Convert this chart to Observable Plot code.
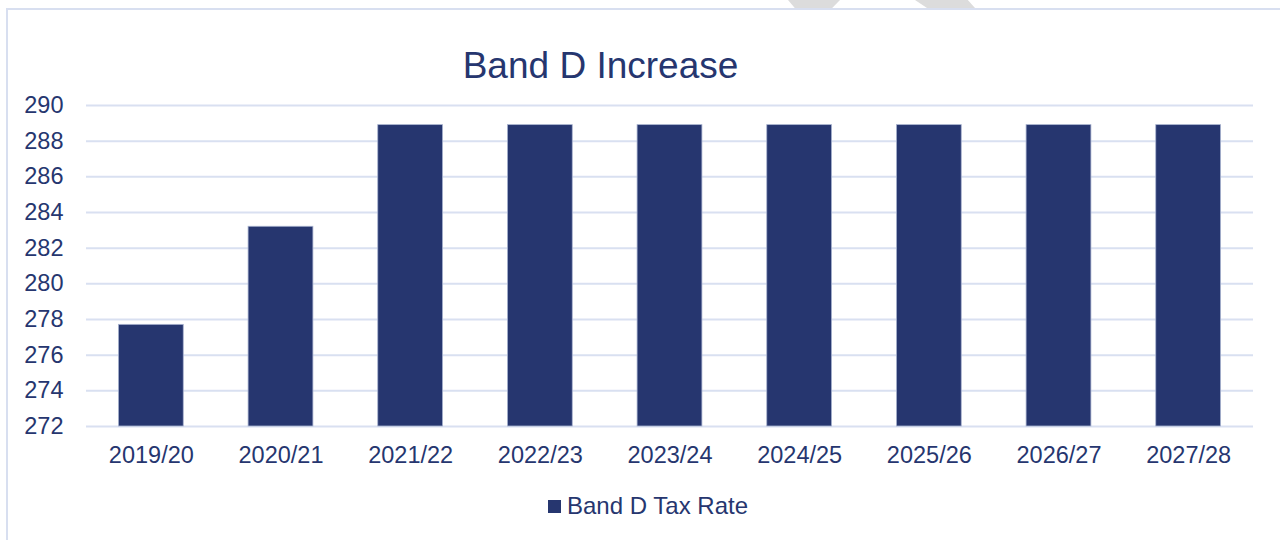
<!DOCTYPE html>
<html>
<head>
<meta charset="utf-8">
<script src="https://cdn.jsdelivr.net/npm/d3@7"></script>
<script src="https://cdn.jsdelivr.net/npm/@observablehq/plot@0.6"></script>
<style>
  html, body { margin: 0; padding: 0; background: #fff; }
  #page { position: relative; width: 1280px; height: 540px; overflow: hidden; font-family: "Liberation Sans", Arial, sans-serif; }
  #frame { position: absolute; left: 6px; top: 8px; width: 1300px; height: 600px; border-left: 2.5px solid #d8dff0; border-top: 2px solid #d8dff0; box-sizing: border-box; }
  .mark { position: absolute; top: 0; height: 8px; background: #dcdcdc; }
  #m1 { left: 788px; width: 52px; clip-path: polygon(0 0, 100% 0, 85% 100%, 13% 100%); }
  #m2 { left: 915px; width: 60px; clip-path: polygon(0 0, 88% 0, 100% 100%, 20% 100%); }
  #title { position: absolute; left: 0; top: 44px; width: 1201px; text-align: center; font-size: 37px; color: #26366f; line-height: 44px; }
  #chart { position: absolute; left: 0; top: 90px; }
  #legend { position: absolute; left: 548px; top: 492px; display: flex; align-items: center; gap: 6px; font-size: 24px; color: #26366f; line-height: 28px; }
  #legend .sw { width: 13px; height: 13px; background: #26366f; }
</style>
</head>
<body>
<div id="page">
  <div id="frame"></div>
  <div class="mark" id="m1"></div>
  <div class="mark" id="m2"></div>
  <div id="title">Band D Increase</div>
  <div id="chart"></div>
  <div id="legend"><div class="sw"></div><span>Band D Tax Rate</span></div>
</div>
<script>
const years = ["2019/20", "2020/21", "2021/22", "2022/23", "2023/24", "2024/25", "2025/26", "2026/27", "2027/28"];
const bandDTaxRate = [277.7, 283.2, 288.9, 288.9, 288.9, 288.9, 288.9, 288.9, 288.9];
const yTicks = [272, 274, 276, 278, 280, 282, 284, 286, 288, 290];
const yMin = 272, yMax = 290;

const data = years.map((y, i) => ({year: y, value: bandDTaxRate[i]}));
const navy = "#26366f";

const chart = Plot.plot({
  width: 1280,
  height: 385,
  marginTop: 15,
  marginBottom: 49,
  marginLeft: 86,
  marginRight: 27,
  style: {fontFamily: "'Liberation Sans', Arial, sans-serif", fontSize: "23.5px", color: navy, background: "transparent"},
  x: {domain: years, paddingInner: 0.5, paddingOuter: 0.25, round: false, label: null},
  y: {domain: [yMin, yMax], label: null},
  marks: [
    Plot.ruleY(yTicks, {stroke: "#d9e0f1", strokeWidth: 2}),
    Plot.barY(data, {x: "year", y1: yMin, y2: "value", fill: navy, stroke: "#a9b3cf", strokeWidth: 0.8}),
    Plot.axisY({ticks: yTicks, tickSize: 0, tickPadding: 23, fill: navy, fontSize: 23.5, tickFormat: d => String(d)}),
    Plot.axisX({tickSize: 0, tickPadding: 20, fill: navy, fontSize: 23.5})
  ]
});
document.getElementById("chart").appendChild(chart);
</script>
</body>
</html>
